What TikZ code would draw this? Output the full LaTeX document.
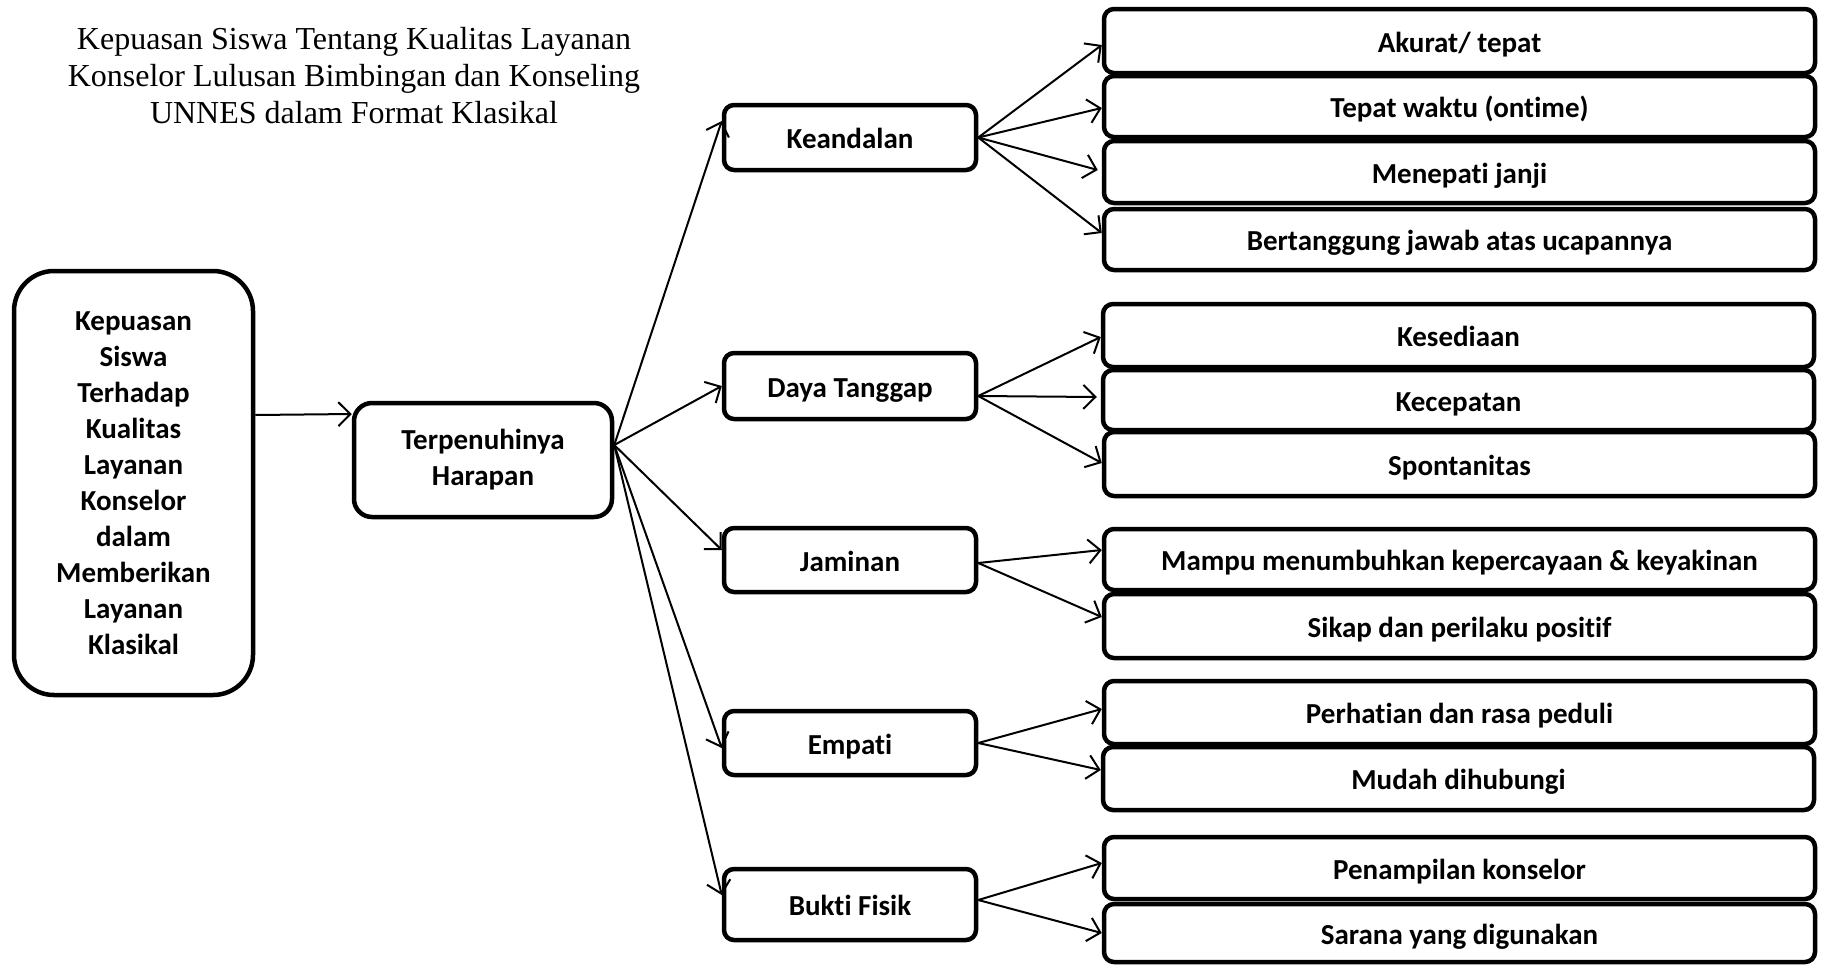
\documentclass[tikz,border=0pt]{standalone}
\usepackage{fontspec}
\setmainfont{Carlito}[Ligatures={NoCommon}]
\newfontfamily\titlefont{Liberation Serif}
\usetikzlibrary{arrows.meta}
\begin{document}
\begin{tikzpicture}[x=1pt,y=-1pt,
  box/.style={draw, line width=4.5pt, fill=white, rounded corners=10pt, font=\bfseries\fontsize{29}{36}\selectfont, align=center, inner sep=0pt},
  onebox/.style={box, text height=22pt, text depth=0pt},
  mbox/.style={onebox, minimum width=252pt},
  rbox/.style={onebox, minimum width=711pt},
  arr/.style={line width=2pt, -{Straight Barb[length=12pt,width=24pt]}},
  ttl/.style={font=\titlefont\fontsize{32}{37}\selectfont, align=center, inner sep=0pt}
]
\useasboundingbox (0,0) rectangle (1822,964);

\node[ttl] (title) at (354,76) {Kepuasan Siswa Tentang Kualitas Layanan\\Konselor Lulusan Bimbingan dan Konseling\\UNNES dalam Format Klasikal};

\node[box, minimum width=239pt, minimum height=424pt, rounded corners=40pt] (sat) at (133.5,483) {Kepuasan\\Siswa\\Terhadap\\Kualitas\\Layanan\\Konselor\\dalam\\Memberikan\\Layanan\\Klasikal};
\node[box, minimum width=258pt, minimum height=114pt, rounded corners=18pt] (harapan) at (483,460) {\rule{0pt}{3pt}Terpenuhinya\\Harapan};

\node[mbox, minimum height=65pt] (keandalan) at (850,137.5) {Keandalan};
\node[mbox, minimum height=66pt] (daya) at (850,386) {Daya Tanggap};
\node[mbox, minimum height=64pt] (jaminan) at (850,560) {Jaminan};
\node[mbox, minimum height=64pt] (empati) at (850,743) {Empati};
\node[mbox, minimum height=71pt] (bukti) at (850,904.5) {Bukti Fisik};

\node[rbox, minimum height=64pt] (akurat) at (1459.5,41) {Akurat/ tepat};
\node[rbox, minimum height=61pt] (tepat) at (1459.5,106.5) {Tepat waktu (ontime)};
\node[rbox, minimum height=62pt] (janji) at (1459.5,172) {Menepati janji};
\node[rbox, minimum height=61pt] (jawab) at (1459.5,239.5) {Bertanggung jawab atas ucapannya};
\node[rbox, minimum height=63pt] (sedia) at (1458.5,335.5) {Kesediaan};
\node[rbox, minimum height=60pt] (cepat) at (1458.5,400) {Kecepatan};
\node[rbox, minimum height=64pt] (spontan) at (1459.5,464) {Spontanitas};
\node[rbox, minimum height=61pt] (mampu) at (1459.5,559.5) {Mampu menumbuhkan kepercayaan \& keyakinan};
\node[rbox, minimum height=64pt] (sikap) at (1459.5,626) {Sikap dan perilaku positif};
\node[rbox, minimum height=63pt] (peduli) at (1459.5,712.5) {Perhatian dan rasa peduli};
\node[rbox, minimum height=63pt] (mudah) at (1458.5,778.5) {Mudah dihubungi};
\node[rbox, minimum height=62pt] (tampil) at (1459.5,868) {Penampilan konselor};
\node[rbox, minimum height=58pt] (sarana) at (1459.5,933) {Sarana yang digunakan};

\draw[arr] ([yshift=68pt]sat.east) -- ([yshift=46pt]harapan.west);

\draw[arr] ([yshift=15pt]harapan.east) -- ([yshift=16.5pt]keandalan.west);
\draw[arr] ([yshift=15pt]harapan.east) -- (daya.west);
\draw[arr] ([yshift=15pt]harapan.east) -- ([yshift=10pt]jaminan.west);
\draw[arr] ([yshift=15pt]harapan.east) -- ([yshift=-5pt]empati.west);
\draw[arr] ([yshift=15pt]harapan.east) -- ([yshift=9.5pt]bukti.west);

\draw[arr] (keandalan.east) -- ([yshift=-4pt]akurat.west);
\draw[arr] (keandalan.east) -- ([yshift=-1.5pt]tepat.west);
\draw[arr] (keandalan.east) -- ([xshift=-4pt,yshift=2pt]janji.west);
\draw[arr] (keandalan.east) -- ([yshift=6.5pt]jawab.west);

\draw[arr] ([yshift=-10pt]daya.east) -- ([yshift=-1.5pt]sedia.west);
\draw[arr] ([yshift=-10pt]daya.east) -- ([xshift=-4pt,yshift=3pt]cepat.west);
\draw[arr] ([yshift=-10pt]daya.east) -- ([yshift=1pt]spontan.west);

\draw[arr] ([yshift=-3pt]jaminan.east) -- ([yshift=9.5pt]mampu.west);
\draw[arr] ([yshift=-3pt]jaminan.east) -- ([yshift=9pt]sikap.west);

\draw[arr] (empati.east) -- ([yshift=3.5pt]peduli.west);
\draw[arr] (empati.east) -- ([yshift=8.5pt]mudah.west);

\draw[arr] ([yshift=4.5pt]bukti.east) -- ([yshift=5pt]tampil.west);
\draw[arr] ([yshift=4.5pt]bukti.east) -- (sarana.west);
\end{tikzpicture}
\end{document}
